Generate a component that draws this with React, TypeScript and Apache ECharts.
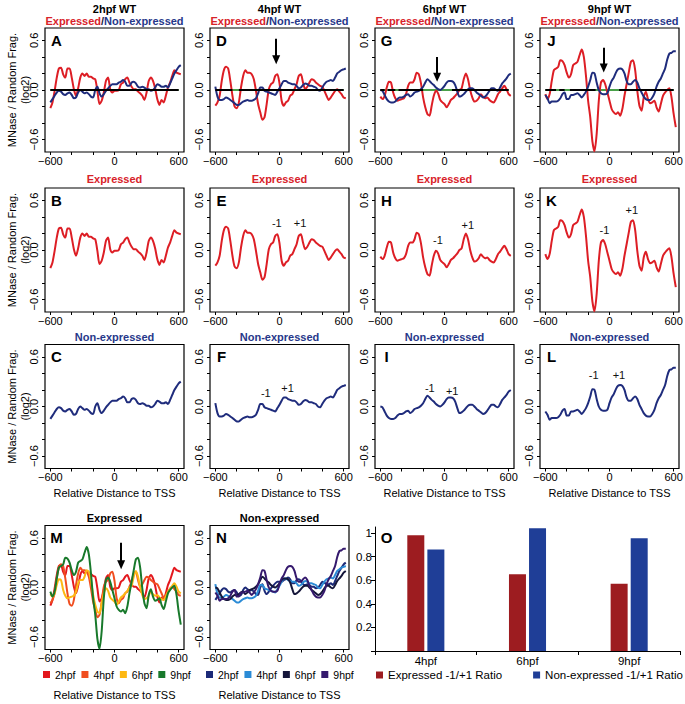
import { useEffect, useRef } from "react";
import * as echarts from "echarts";

const FONT = "'Liberation Sans', Arial, Helvetica, sans-serif";

// Distance to TSS (bp) at which every profile is sampled
const positions = [
  -600, -580, -560, -540, -520, -500, -480, -460, -440, -420,
  -400, -380, -360, -340, -320, -300, -280, -260, -240, -220,
  -200, -180, -160, -140, -120, -100, -80, -60, -40, -20,
  0, 20, 40, 60, 80, 100, 120, 140, 160, 180,
  200, 220, 240, 260, 280, 300, 320, 340, 360, 380,
  400, 420, 440, 460, 480, 500, 520, 540, 560, 580,
  600, 620,
];

// Expressed genes (red) – MNase / random fragments, log2
const expressed2hpf = [
  -0.22, -0.15, -0.01, 0.15, 0.26, 0.27, 0.19, 0.15, 0.26, 0.26,
  0.15, 0.01, -0.07, 0.02, 0.15, 0.2, 0.17, 0.2, 0.16, 0.16,
  0.14, 0.13, -0.01, -0.17, -0.13, -0.03, 0.11, 0.15, 0.01, -0.03,
  -0.01, -0.01, 0.0, 0.07, 0.09, 0.13, 0.15, 0.09, 0.04, 0.01,
  0.01, -0.02, -0.04, -0.07, -0.12, -0.03, 0.11, 0.15, 0.11, 0.02,
  -0.11, -0.18, -0.12, -0.15, -0.07, 0.03, 0.09, 0.17, 0.24, 0.21,
  0.2, 0.19,
];
const expressed4hpf = [
  -0.19, -0.15, -0.07, 0.11, 0.24, 0.28, 0.26, 0.11, -0.07, -0.2,
  -0.22, -0.15, 0.03, 0.17, 0.24, 0.21, 0.21, 0.19, 0.13, -0.01,
  -0.17, -0.27, -0.36, -0.33, -0.17, 0.01, 0.07, 0.09, 0.17, 0.19,
  0.08, -0.13, -0.19, -0.15, -0.13, -0.07, -0.05, 0.01, 0.07, 0.17,
  0.19, 0.09, 0.01, 0.04, 0.09, 0.13, 0.12, 0.09, 0.07, 0.05,
  0.04, -0.01, -0.07, -0.12, -0.09, -0.05, -0.01, 0.01, -0.02, -0.05,
  -0.09, -0.1,
];
const expressed6hpf = [
  -0.08, -0.11, -0.07, 0.03, 0.1, 0.09, -0.03, -0.1, -0.13, -0.12,
  -0.11, -0.1, -0.05, 0.05, 0.09, 0.09, 0.13, 0.21, 0.19, 0.08,
  -0.09, -0.21, -0.29, -0.31, -0.19, -0.07, -0.01, -0.04, -0.12, -0.15,
  -0.17, -0.21, -0.17, -0.12, -0.1, -0.07, -0.04, 0.0, 0.02, 0.13,
  0.2, 0.13, 0.0, -0.09, -0.14, -0.13, -0.1, -0.05, -0.08, -0.1,
  -0.09, -0.12, -0.14, -0.15, -0.11, -0.05, -0.02, 0.02, 0.05, 0.01,
  -0.05, -0.07,
];
const expressed9hpf = [
  -0.05, -0.11, -0.05, 0.11, 0.24, 0.26, 0.28, 0.36, 0.35, 0.3,
  0.21, 0.15, 0.19, 0.3, 0.32, 0.34, 0.42, 0.49, 0.4, 0.17,
  -0.13, -0.33, -0.62, -0.74, -0.53, -0.13, 0.09, 0.12, 0.07, -0.03,
  -0.13, -0.23, -0.27, -0.29, -0.27, -0.31, -0.23, -0.07, 0.07, 0.21,
  0.34, 0.36, 0.24, -0.01, -0.19, -0.25, -0.09, -0.02, -0.11, -0.16,
  -0.15, -0.13, -0.21, -0.26, -0.17, -0.07, -0.03, 0.0, 0.02, -0.09,
  -0.29, -0.45,
];

// Non-expressed genes (blue)
const nonExpressed2hpf = [
  -0.15, -0.11, -0.07, -0.03, -0.01, -0.02, -0.05, -0.06, -0.04, -0.03,
  -0.06, -0.1, -0.09, -0.03, 0.0, -0.02, -0.04, -0.03, -0.05, -0.08,
  -0.09, 0.0, 0.04, -0.04, -0.08, -0.05, -0.01, 0.02, 0.05, 0.07,
  0.07, 0.07, 0.09, 0.1, 0.12, 0.1, 0.05, 0.05, 0.09, 0.1,
  0.08, 0.04, 0.03, 0.04, 0.03, 0.01, 0.01, -0.01, 0.0, 0.03,
  0.07, 0.06, 0.04, 0.04, 0.05, 0.03, 0.08, 0.14, 0.2, 0.24,
  0.28, 0.3,
];
const nonExpressed4hpf = [
  0.04, -0.08, -0.12, -0.12, -0.11, -0.09, -0.1, -0.12, -0.14, -0.16,
  -0.18, -0.18, -0.16, -0.14, -0.13, -0.12, -0.13, -0.13, -0.12, -0.1,
  -0.04, 0.03, 0.03, -0.01, -0.02, -0.03, -0.04, -0.05, -0.06, -0.02,
  0.02, 0.07, 0.11, 0.11, 0.09, 0.08, 0.07, 0.07, 0.05, 0.02,
  0.03, 0.06, 0.08, 0.07, 0.05, 0.05, 0.04, 0.03, 0.0, -0.01,
  0.03, 0.07, 0.1, 0.11, 0.12, 0.11, 0.15, 0.2, 0.22, 0.24,
  0.25, 0.26,
];
const nonExpressed6hpf = [
  0.0, -0.01, -0.06, -0.11, -0.14, -0.15, -0.15, -0.14, -0.11, -0.09,
  -0.09, -0.08, -0.06, -0.05, -0.08, -0.06, -0.03, -0.02, -0.01, 0.01,
  0.04, 0.09, 0.13, 0.11, 0.08, 0.06, 0.03, 0.01, 0.0, 0.02,
  0.05, 0.09, 0.11, 0.11, 0.1, 0.06, -0.02, -0.08, -0.07, -0.05,
  -0.02, 0.01, 0.02, 0.02, 0.0, -0.03, -0.05, -0.07, -0.09, -0.08,
  -0.05, -0.01, 0.02, 0.02, 0.0, -0.01, 0.03, 0.08, 0.11, 0.14,
  0.18, 0.2,
];
const nonExpressed9hpf = [
  -0.06, -0.1, -0.16, -0.14, -0.14, -0.14, -0.13, -0.1, -0.05, -0.03,
  -0.11, -0.11, -0.06, -0.06, -0.05, -0.04, -0.06, -0.09, -0.06, -0.02,
  0.04, 0.12, 0.21, 0.2, 0.09, 0.0, -0.04, -0.05, -0.05, -0.04,
  0.04, 0.11, 0.15, 0.21, 0.25, 0.26, 0.25, 0.2, 0.11, 0.07,
  0.07, 0.1, 0.12, 0.09, 0.02, -0.03, -0.08, -0.11, -0.12, -0.12,
  -0.09, -0.04, 0.04, 0.1, 0.14, 0.2, 0.26, 0.37, 0.44, 0.45,
  0.47, 0.47,
];

const stageHeaders = ["2hpf WT", "4hpf WT", "6hpf WT", "9hpf WT"];
const stageNames = ["2hpf", "4hpf", "6hpf", "9hpf"];
const xTickValues = [-600, -400, -200, 0, 200, 400, 600];
const xLabelValues = [-600, 0, 600];
const yTickValues = [-0.6, -0.4, -0.2, 0, 0.2, 0.4, 0.6];
const yLabelValues = [-0.6, 0, 0.6];

// Panel O: -1/+1 nucleosome ratio
const ratioCategories = ["4hpf", "6hpf", "9hpf"];
const expressedRatio = [0.98, 0.65, 0.57];
const nonExpressedRatio = [0.86, 1.04, 0.955];
const ratioTickValues = [0, 0.2, 0.4, 0.6, 0.8, 1];
const ratioLabelValues = [0.2, 0.4, 0.6, 0.8, 1];

// zero reference line: stretches drawn in black (rest green)
const zeroBlack2hpf = [[-600, 600]];
const zeroBlack4hpf = [[-600, -440], [-380, 600]];
const zeroBlack6hpf = [[-600, -560], [-530, -460], [-430, -200], [70, 600]];
const zeroBlack9hpf = [[-600, -500], [-470, -420], [-370, -130], [90, 600]];

// arrows: [x, top value, tip value]
const arrow4hpf = [-31, 0.62, 0.31];
const arrow6hpf = [-69, 0.4, 0.1];
const arrow9hpf = [-54, 0.51, 0.21];
const arrowCombined = [62, 0.54, 0.22];

// nucleosome -1 / +1 annotations: [x, y, text]
const nucExp4hpf = [[-25, 0.34, "-1"], [193, 0.34, "+1"]];
const nucExp6hpf = [[-62, 0.13, "-1"], [218, 0.32, "+1"]];
const nucExp9hpf = [[-47, 0.25, "-1"], [209, 0.5, "+1"]];
const nucNon4hpf = [[-128, 0.17, "-1"], [75, 0.24, "+1"]];
const nucNon6hpf = [[-137, 0.24, "-1"], [72, 0.2, "+1"]];
const nucNon9hpf = [[-148, 0.39, "-1"], [88, 0.39, "+1"]];

const RED = "#dd1e25";
const NAVY = "#1f2c7c";
const TITLE_RED = "#d8232a";
const TITLE_NAVY = "#27388a";
const ZERO_GREEN = "#49a049";
const M_COLORS = ["#e3171d", "#f04d1f", "#fdb813", "#18792b"];
const N_COLORS = ["#1c2a78", "#2b8bd6", "#15163a", "#35196d"];
const BAR_RED = "#9d1c20";
const BAR_BLUE = "#1f3e97";

const COL_LEFT = [45, 210, 375, 540];
const ROW_TOP = [28, 188, 344.5, 525.5];
const PW = 139;
const PH = 124;

const pairs = (vals: number[]) => positions.map((x, i) => [x, vals[i]]);
const fmtX = (v: number) => (v < 0 ? "\u2212" + -v : String(v));
const fmtY = (v: number) =>
  Math.abs(v) < 1e-9 ? "0.0" : (v < 0 ? "\u2212" : "") + Math.abs(v).toFixed(1);

function buildOption() {
  const grid: any[] = [];
  const xAxis: any[] = [];
  const yAxis: any[] = [];
  const series: any[] = [];
  const graphic: any[] = [];

  const txt = (text: string, x: number, y: number, fill: string, size: number, bold: boolean) =>
    graphic.push({
      type: "text",
      x,
      y,
      silent: true,
      style: {
        text,
        fill,
        fontSize: size,
        fontWeight: bold ? "bold" : "normal",
        fontFamily: FONT,
        align: "center",
        verticalAlign: "middle",
      },
    });

  const addLineGrid = (col: number, row: number, letter: string, xName: boolean, xNameGap: number) => {
    const gi = grid.length;
    const left = COL_LEFT[col];
    const top = ROW_TOP[row];
    grid.push({ left, top, width: PW, height: PH, show: true, borderColor: "#000", borderWidth: 1.2, outerBoundsMode: "none" });
    xAxis.push({
      type: "value",
      gridIndex: gi,
      min: -650,
      max: 650,
      axisLine: { show: false, onZero: false },
      splitLine: { show: false },
      axisTick: { show: true, length: 3, customValues: xTickValues, lineStyle: { color: "#000", width: 1 } },
      axisLabel: { customValues: xLabelValues, margin: 3, fontSize: 11, color: "#000", fontFamily: FONT, formatter: fmtX },
      name: xName ? "Relative Distance to TSS" : "",
      nameLocation: "middle",
      nameGap: xNameGap,
      nameMoveOverlap: false,
      nameTextStyle: { fontSize: 11, color: "#000", fontFamily: FONT },
    });
    yAxis.push({
      type: "value",
      gridIndex: gi,
      min: -0.75,
      max: 0.75,
      axisLine: { show: false, onZero: false },
      splitLine: { show: false },
      axisTick: { show: true, length: 3, customValues: yTickValues, lineStyle: { color: "#000", width: 1 } },
      axisLabel: { customValues: yLabelValues, rotate: 90, margin: 6, fontSize: 11, color: "#000", fontFamily: FONT, formatter: fmtY },
      name: col === 0 ? "MNase / Random Frag.\n(log2)" : "",
      nameLocation: "middle",
      nameRotate: 90,
      nameGap: 14,
      nameMoveOverlap: false,
      nameTextStyle: { fontSize: 11, lineHeight: 13, color: "#000", fontFamily: FONT },
    });
    txt(letter, left + 11.5, top + 12, "#000", 15, true);
    return gi;
  };

  const line = (name: string, gi: number, vals: number[], color: string, extra: any = {}) => ({
    name,
    type: "line",
    xAxisIndex: gi,
    yAxisIndex: gi,
    data: pairs(vals),
    symbol: "none",
    showSymbol: false,
    smooth: 0.25,
    lineStyle: { color, width: 2 },
    itemStyle: { color },
    emphasis: { disabled: true },
    ...extra,
  });

  const arrowMark = (a: number[]) => ({
    silent: true,
    symbol: ["none", "triangle"],
    symbolSize: [8, 9],
    label: { show: false },
    lineStyle: { color: "#000", width: 2, type: "solid" },
    emphasis: { disabled: true },
    data: [[{ coord: [a[0], a[1]] }, { coord: [a[0], a[2] + 0.055] }]],
  });

  const nucMark = (ann: any[]) => ({
    silent: true,
    symbol: "circle",
    symbolSize: 1,
    itemStyle: { color: "rgba(0,0,0,0)" },
    label: {
      show: true,
      position: "top",
      distance: -7,
      formatter: "{b}",
      color: "#111",
      textBorderWidth: 0,
      fontSize: 11,
      fontFamily: FONT,
    },
    emphasis: { disabled: true },
    data: ann.map((a) => ({ name: a[2], coord: [a[0], a[1]] })),
  });

  const expressed = [expressed2hpf, expressed4hpf, expressed6hpf, expressed9hpf];
  const nonExpressed = [nonExpressed2hpf, nonExpressed4hpf, nonExpressed6hpf, nonExpressed9hpf];
  const zeroBlack = [zeroBlack2hpf, zeroBlack4hpf, zeroBlack6hpf, zeroBlack9hpf];
  const arrows: any[] = [null, arrow4hpf, arrow6hpf, arrow9hpf];
  const nucExp: any[] = [null, nucExp4hpf, nucExp6hpf, nucExp9hpf];
  const nucNon: any[] = [null, nucNon4hpf, nucNon6hpf, nucNon9hpf];
  const lettersTop = ["A", "D", "G", "J"];
  const lettersMid = ["B", "E", "H", "K"];
  const lettersBot = ["C", "F", "I", "L"];

  for (let c = 0; c < 4; c++) {
    const cx = COL_LEFT[c] + PW / 2;
    txt(stageHeaders[c], cx, 9, "#000", 11, true);
    graphic.push({
      type: "text",
      x: cx,
      y: 21,
      silent: true,
      style: {
        text: "{r|Expressed}{k|/}{b|Non-expressed}",
        align: "center",
        verticalAlign: "middle",
        fontSize: 11,
        fontWeight: "bold",
        fontFamily: FONT,
        rich: {
          r: { fill: TITLE_RED, fontSize: 11, fontWeight: "bold", fontFamily: FONT },
          k: { fill: "#1a1a3a", fontSize: 11, fontWeight: "bold", fontFamily: FONT },
          b: { fill: TITLE_NAVY, fontSize: 11, fontWeight: "bold", fontFamily: FONT },
        },
      },
    });
    txt("Expressed", cx, 179, TITLE_RED, 11, true);
    txt("Non-expressed", cx, 337, TITLE_NAVY, 11, true);

    // row 1: both groups
    const g1 = addLineGrid(c, 0, lettersTop[c], false, 0);
    series.push({
      name: "zero " + stageNames[c],
      type: "line",
      xAxisIndex: g1,
      yAxisIndex: g1,
      data: [[-600, 0], [600, 0]],
      symbol: "none",
      silent: true,
      lineStyle: { color: ZERO_GREEN, width: 2 },
      markLine: {
        silent: true,
        symbol: ["none", "none"],
        label: { show: false },
        lineStyle: { color: "#000", width: 2, type: "solid" },
        emphasis: { disabled: true },
        data: zeroBlack[c].map((s) => [{ coord: [s[0], 0] }, { coord: [s[1], 0] }]),
      },
    });
    series.push(line("exp " + stageNames[c], g1, expressed[c], RED, arrows[c] ? { markLine: arrowMark(arrows[c]) } : {}));
    series.push(line("non " + stageNames[c], g1, nonExpressed[c], NAVY));

    // row 2: expressed
    const g2 = addLineGrid(c, 1, lettersMid[c], false, 0);
    series.push(line("exp2 " + stageNames[c], g2, expressed[c], RED, nucExp[c] ? { markPoint: nucMark(nucExp[c]) } : {}));

    // row 3: non-expressed
    const g3 = addLineGrid(c, 2, lettersBot[c], true, 19);
    series.push(line("non2 " + stageNames[c], g3, nonExpressed[c], NAVY, nucNon[c] ? { markPoint: nucMark(nucNon[c]) } : {}));
  }

  // row 4: combined profiles
  txt("Expressed", COL_LEFT[0] + PW / 2, 518, "#000", 11, true);
  txt("Non-expressed", COL_LEFT[1] + PW / 2, 518, "#000", 11, true);
  const gM = addLineGrid(0, 3, "M", true, 40);
  const gN = addLineGrid(1, 3, "N", true, 40);
  for (let s = 0; s < 4; s++) {
    series.push(
      line("M|" + stageNames[s], gM, expressed[s], M_COLORS[s], s === 3 ? { markLine: arrowMark(arrowCombined) } : {})
    );
  }
  for (let s = 0; s < 4; s++) {
    series.push(line("N|" + stageNames[s], gN, nonExpressed[s], N_COLORS[s]));
  }

  // panel O: ratio bars
  const gO = grid.length;
  grid.push({ left: 375, top: 527, width: 305, height: 124, outerBoundsMode: "none" });
  xAxis.push({
    type: "category",
    gridIndex: gO,
    data: ratioCategories,
    axisLine: { show: true, lineStyle: { color: "#000", width: 1 } },
    axisTick: { show: true, length: 4, lineStyle: { color: "#000" } },
    axisLabel: { margin: 4, fontSize: 11.5, color: "#000", fontFamily: FONT },
    splitLine: { show: false },
  });
  yAxis.push({
    type: "value",
    gridIndex: gO,
    min: 0,
    max: 1.05,
    axisLine: { show: true, onZero: false, lineStyle: { color: "#000", width: 1 } },
    axisTick: { show: true, length: 4, customValues: ratioTickValues, lineStyle: { color: "#000" } },
    axisLabel: {
      customValues: ratioLabelValues,
      margin: 3,
      fontSize: 11.5,
      color: "#000",
      fontFamily: FONT,
      formatter: (v: number) => String(Number(v.toFixed(1))),
    },
    splitLine: { show: false },
  });
  series.push({
    name: "Expressed -1/+1 Ratio",
    type: "bar",
    xAxisIndex: gO,
    yAxisIndex: gO,
    data: expressedRatio,
    barWidth: 17,
    barGap: "18%",
    itemStyle: { color: BAR_RED },
  });
  series.push({
    name: "Non-expressed -1/+1 Ratio",
    type: "bar",
    xAxisIndex: gO,
    yAxisIndex: gO,
    data: nonExpressedRatio,
    barWidth: 17,
    barGap: "18%",
    itemStyle: { color: BAR_BLUE },
  });
  graphic.push({
    type: "text",
    x: 386.7,
    y: 537.5,
    silent: true,
    style: { text: "O", fill: "#000", fontSize: 15, fontWeight: "bold", fontFamily: FONT, align: "center", verticalAlign: "middle" },
  });

  const legendBase = {
    orient: "horizontal",
    top: 669,
    icon: "rect",
    itemWidth: 7,
    itemHeight: 7,
    padding: 0,
    selectedMode: false,
  };

  return {
    animation: false,
    backgroundColor: "#fff",
    textStyle: { fontFamily: FONT },
    grid,
    xAxis,
    yAxis,
    series,
    graphic: { elements: graphic },
    legend: [
      {
        ...legendBase,
        left: 43,
        itemGap: 6,
        data: stageNames.map((n) => "M|" + n),
        formatter: (n: string) => n.split("|")[1],
        textStyle: { fontSize: 10.5, color: "#000", fontFamily: FONT },
      },
      {
        ...legendBase,
        left: 206,
        itemGap: 6,
        data: stageNames.map((n) => "N|" + n),
        formatter: (n: string) => n.split("|")[1],
        textStyle: { fontSize: 10.5, color: "#000", fontFamily: FONT },
      },
      {
        ...legendBase,
        left: 376,
        itemGap: 31,
        data: ["Expressed -1/+1 Ratio", "Non-expressed -1/+1 Ratio"],
        textStyle: { fontSize: 11.5, color: "#000", fontFamily: FONT },
      },
    ],
  };
}

export default function App() {
  const ref = useRef<HTMLDivElement>(null);
  useEffect(() => {
    if (!ref.current) return;
    const chart = echarts.init(ref.current, null, { renderer: "svg" });
    chart.setOption(buildOption() as any);
    return () => chart.dispose();
  }, []);
  return (
    <div
      ref={ref}
      style={{ position: "fixed", left: 0, top: 0, width: 685, height: 704, background: "#fff" }}
    />
  );
}
